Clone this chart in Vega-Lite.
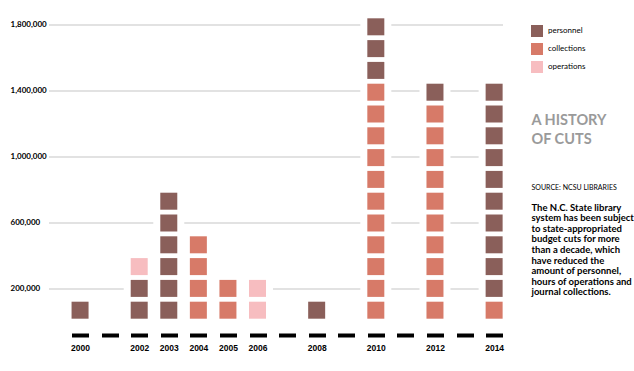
{
  "$schema": "https://vega.github.io/schema/vega-lite/v6.json",
  "width": 454,
  "height": 323,
  "autosize": {"type": "none"},
  "padding": {"left": 49, "top": 10, "right": 131, "bottom": 38},
  "background": "white",
  "config": {"view": {"stroke": null}},
  "datasets": {
    "squares": [
      {"year": 2000, "category": "personnel", "unit": 1},
      {"year": 2002, "category": "personnel", "unit": 1},
      {"year": 2002, "category": "personnel", "unit": 2},
      {"year": 2002, "category": "operations", "unit": 3},
      {"year": 2003, "category": "personnel", "unit": 1},
      {"year": 2003, "category": "personnel", "unit": 2},
      {"year": 2003, "category": "personnel", "unit": 3},
      {"year": 2003, "category": "personnel", "unit": 4},
      {"year": 2003, "category": "personnel", "unit": 5},
      {"year": 2003, "category": "personnel", "unit": 6},
      {"year": 2004, "category": "collections", "unit": 1},
      {"year": 2004, "category": "collections", "unit": 2},
      {"year": 2004, "category": "collections", "unit": 3},
      {"year": 2004, "category": "collections", "unit": 4},
      {"year": 2005, "category": "collections", "unit": 1},
      {"year": 2005, "category": "collections", "unit": 2},
      {"year": 2006, "category": "operations", "unit": 1},
      {"year": 2006, "category": "operations", "unit": 2},
      {"year": 2008, "category": "personnel", "unit": 1},
      {"year": 2010, "category": "collections", "unit": 1},
      {"year": 2010, "category": "collections", "unit": 2},
      {"year": 2010, "category": "collections", "unit": 3},
      {"year": 2010, "category": "collections", "unit": 4},
      {"year": 2010, "category": "collections", "unit": 5},
      {"year": 2010, "category": "collections", "unit": 6},
      {"year": 2010, "category": "collections", "unit": 7},
      {"year": 2010, "category": "collections", "unit": 8},
      {"year": 2010, "category": "collections", "unit": 9},
      {"year": 2010, "category": "collections", "unit": 10},
      {"year": 2010, "category": "collections", "unit": 11},
      {"year": 2010, "category": "personnel", "unit": 12},
      {"year": 2010, "category": "personnel", "unit": 13},
      {"year": 2010, "category": "personnel", "unit": 14},
      {"year": 2012, "category": "collections", "unit": 1},
      {"year": 2012, "category": "collections", "unit": 2},
      {"year": 2012, "category": "collections", "unit": 3},
      {"year": 2012, "category": "collections", "unit": 4},
      {"year": 2012, "category": "collections", "unit": 5},
      {"year": 2012, "category": "collections", "unit": 6},
      {"year": 2012, "category": "collections", "unit": 7},
      {"year": 2012, "category": "collections", "unit": 8},
      {"year": 2012, "category": "collections", "unit": 9},
      {"year": 2012, "category": "collections", "unit": 10},
      {"year": 2012, "category": "personnel", "unit": 11},
      {"year": 2014, "category": "collections", "unit": 1},
      {"year": 2014, "category": "personnel", "unit": 2},
      {"year": 2014, "category": "personnel", "unit": 3},
      {"year": 2014, "category": "personnel", "unit": 4},
      {"year": 2014, "category": "personnel", "unit": 5},
      {"year": 2014, "category": "personnel", "unit": 6},
      {"year": 2014, "category": "personnel", "unit": 7},
      {"year": 2014, "category": "personnel", "unit": 8},
      {"year": 2014, "category": "personnel", "unit": 9},
      {"year": 2014, "category": "personnel", "unit": 10},
      {"year": 2014, "category": "personnel", "unit": 11}
    ],
    "grid": [
      {"amount": 200000},
      {"amount": 600000},
      {"amount": 1000000},
      {"amount": 1400000},
      {"amount": 1800000}
    ]
  },
  "resolve": {"scale": {"y": "independent"}, "axis": {"y": "independent"}},
  "layer": [
    {
      "data": {"name": "grid"},
      "mark": {"type": "rule", "color": "#d8d8d8", "strokeWidth": 1.5},
      "encoding": {
        "y": {
          "field": "amount",
          "type": "quantitative",
          "scale": {"domain": [-66667, 1890900], "nice": false, "zero": false},
          "axis": {
            "orient": "left",
            "values": [200000, 600000, 1000000, 1400000, 1800000],
            "format": ",d",
            "grid": false,
            "domain": false,
            "ticks": false,
            "tickSize": 0,
            "labelAlign": "left",
            "labelPadding": 39,
            "labelFont": "Lato",
            "labelFontSize": 8,
            "labelFontWeight": "bold",
            "labelColor": "#000000",
            "title": ["A HISTORY", "OF CUTS"],
            "titleAngle": 0,
            "titleAlign": "left",
            "titleBaseline": "alphabetic",
            "titleX": 482,
            "titleY": 114,
            "titleFont": "Lato",
            "titleFontSize": 14.5,
            "titleFontWeight": "bold",
            "titleColor": "#9a9a9a",
            "titleLineHeight": 19
          }
        }
      }
    },
    {
      "data": {"name": "squares"},
      "encoding": {
        "x": {
          "field": "year",
          "type": "quantitative",
          "scale": {"domain": [1998.95, 2014.3], "nice": false, "zero": false},
          "axis": {
            "values": [2000, 2001, 2002, 2003, 2004, 2005, 2006, 2007, 2008, 2009, 2010, 2011, 2012, 2013, 2014],
            "format": "d",
            "labelExpr": "indexof([2001, 2007, 2009, 2011, 2013], datum.value) >= 0 ? '' : datum.label",
            "labelFlush": false,
            "labelOverlap": false,
            "grid": false,
            "domain": false,
            "tickColor": "#000000",
            "tickWidth": 17,
            "tickSize": 4,
            "tickCap": "butt",
            "labelPadding": 6,
            "labelFont": "Liberation Sans",
            "labelFontSize": 8.5,
            "labelFontWeight": "bold",
            "labelColor": "#000000",
            "title": "SOURCE: NCSU LIBRARIES",
            "titleAngle": 0,
            "titleAlign": "left",
            "titleBaseline": "alphabetic",
            "titleX": 482,
            "titleY": -144,
            "titleFont": "Lato",
            "titleFontSize": 7,
            "titleFontWeight": "normal",
            "titleColor": "#000000"
          }
        },
        "y": {
          "field": "unit",
          "type": "quantitative",
          "scale": {"domain": [-0.046, 14.771], "nice": false, "zero": false},
          "axis": {
            "orient": "right",
            "labels": false,
            "ticks": false,
            "domain": false,
            "grid": false,
            "title": [
              "The N.C. State library",
              "system has been subject",
              "to state-appropriated",
              "budget cuts for more",
              "than a decade, which",
              "have reduced the",
              "amount of personnel,",
              "hours of operations and",
              "journal collections."
            ],
            "titleAngle": 0,
            "titleAlign": "left",
            "titleBaseline": "alphabetic",
            "titleX": 28,
            "titleY": 200,
            "titleFont": "Lato",
            "titleFontSize": 9.5,
            "titleFontWeight": "bold",
            "titleColor": "#000000",
            "titleLineHeight": 10.6
          }
        }
      },
      "layer": [
        {
          "mark": {"type": "square", "size": 961, "color": "white", "opacity": 1, "filled": true}
        },
        {
          "mark": {"type": "square", "size": 289, "opacity": 1, "filled": true},
          "encoding": {
            "color": {
              "field": "category",
              "type": "nominal",
              "scale": {"domain": ["personnel", "collections", "operations"], "range": ["#8a5f5a", "#d77a68", "#f7bdc0"]},
              "legend": {
                "orient": "none",
                "legendX": 482,
                "legendY": 15,
                "title": null,
                "symbolType": "square",
                "symbolSize": 144,
                "symbolStrokeWidth": 0,
                "symbolOpacity": 1,
                "labelFont": "Lato",
                "labelFontSize": 8,
                "labelColor": "#000000",
                "labelOffset": 5,
                "rowPadding": 6,
                "padding": 0
              }
            }
          }
        }
      ]
    }
  ]
}
